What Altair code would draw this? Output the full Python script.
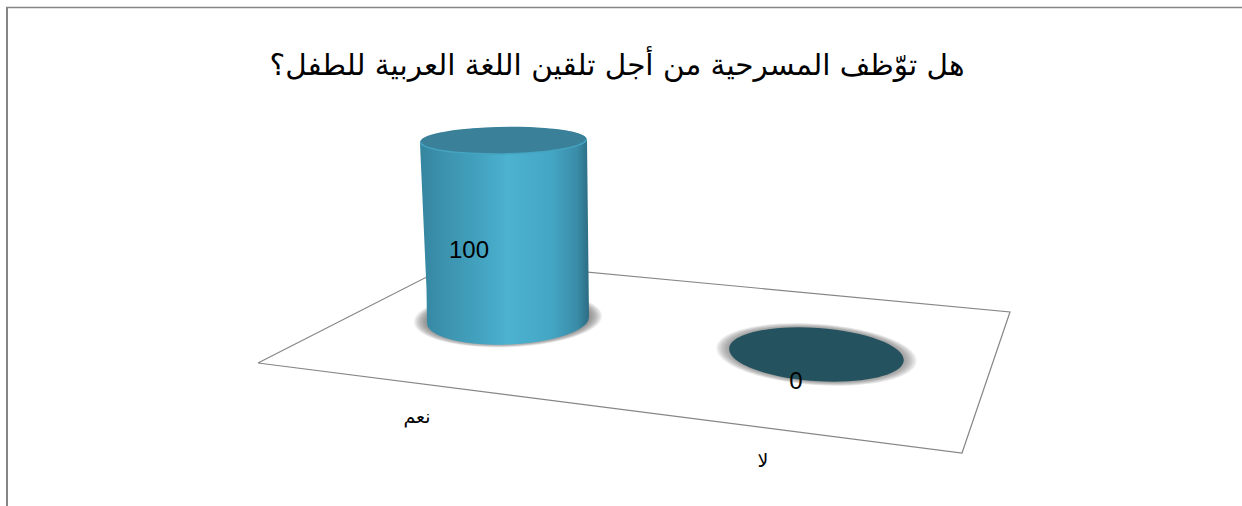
import math
import altair as alt
import pandas as pd

W, H = 1242, 506

TITLE = "هل توّظف المسرحية من أجل تلقين اللغة العربية للطفل؟"
categories = ["نعم", "لا"]
values = [100, 0]

# Screen layout of the pseudo-3D scene
base_center_x = [508, 816.5]
base_center_y = [320, 354.5]
base_rx = [81, 87.5]
PX_PER_UNIT = 1.785
floor_corners = [(258, 363), (460, 260), (1010, 312), (962, 453), (258, 363)]
value_label_pos = [(469, 251), (796, 382)]
category_label_pos = [(417, 417), (763, 461)]

GREY = "#868686"
sx = alt.Scale(domain=[0, W], range=[0, W], nice=False, zero=False)
sy = alt.Scale(domain=[0, H], range=[0, H], nice=False, zero=False)
X = lambda f="x": alt.X(f"{f}:Q", scale=sx, axis=None)
Y = lambda f="y": alt.Y(f"{f}:Q", scale=sy, axis=None)


def ellipse_path(ratio, tilt_deg):
    """Closed unit-width ellipse usable as a custom symbol."""
    t = math.radians(tilt_deg)
    dx, dy = math.cos(t), math.sin(t)
    return (f"M{-dx:.4f},{-dy:.4f}A1,{ratio:.4f},{tilt_deg},1,1,{dx:.4f},{dy:.4f}"
            f"A1,{ratio:.4f},{tilt_deg},1,1,{-dx:.4f},{-dy:.4f}Z")


def disc(rows, ratio, tilt, **mark):
    """Ellipses placed by the x/y scales; size is the squared full width."""
    frame = pd.DataFrame(rows)
    return alt.Chart(frame).mark_point(
        shape=ellipse_path(ratio, tilt), filled=True, strokeWidth=0, **mark
    ).encode(x=X(), y=Y(), size=alt.Size("s:Q", scale=None, legend=None))


def soft_halo(cx, cy, rx, reach, ratio, tilt, color, alpha, steps=9):
    """Concentric translucent ellipses that fade out around a disc."""
    rows = [{"x": cx, "y": cy, "s": (2 * (rx + reach * (1 - i / steps))) ** 2}
            for i in range(steps)]
    return disc(rows, ratio, tilt, color=color, opacity=alpha)


# Floor outline
floor = alt.Chart(pd.DataFrame(
    [{"x": a, "y": b, "o": i} for i, (a, b) in enumerate(floor_corners)]
)).mark_line(color=GREY, strokeWidth=1.2).encode(x=X(), y=Y(), order="o:Q")

# Shadows below each cylinder
shadow_bar = soft_halo(508, 319, 81, 13, 0.30, -2, "#555555", 0.10)
shadow_zero = soft_halo(816.5, 354.5, 87.5, 13, 0.305, 4, "#666666", 0.09)

# Cylinder wall for the non-zero category
top_y = base_center_y[0] - values[0] * PX_PER_UNIT
TOP_CX, TOP_RX = 503.5, 83.5


def wall_rows():
    rows = []
    xs = [420 + i * 0.5 for i in range(0, 335)] + [587.5, 588, 588.5, 589]
    left, right = TOP_CX - TOP_RX, TOP_CX + TOP_RX
    for x in xs:
        upper = top_y - 0.02 * (x - TOP_CX)
        if x > right:
            upper += (x - right) / 2 * (base_center_y[0] - top_y)
        bx = (x - base_center_x[0]) / base_rx[0]
        if abs(bx) <= 1:
            lower = base_center_y[0] - 0.037 * (x - base_center_x[0]) + 24.5 * math.sqrt(1 - bx * bx)
        else:
            lower = upper + (x - left) / 8 * (323 - upper)
        rows.append({"x": x, "y": upper, "y2": min(lower, 345)})
    return rows


wall_gradient = alt.Gradient(
    gradient="linear", x1=0, x2=1, y1=0, y2=0,
    stops=[
        alt.GradientStop(color="#35859f", offset=0),
        alt.GradientStop(color="#3c93af", offset=0.15),
        alt.GradientStop(color="#43a3c0", offset=0.36),
        alt.GradientStop(color="#4bb2d0", offset=0.52),
        alt.GradientStop(color="#44a6c4", offset=0.78),
        alt.GradientStop(color="#3a8ca8", offset=0.93),
        alt.GradientStop(color="#2c6c82", offset=1),
    ],
)
wall = alt.Chart(pd.DataFrame(wall_rows())).mark_area(
    color=wall_gradient, strokeWidth=0, interpolate="linear"
).encode(x=X(), y=Y(), y2="y2:Q")

# Cap of the cylinder: a light bevel under the flat top
cap_rim = disc([{"x": TOP_CX, "y": top_y - 0.5, "s": (2 * TOP_RX) ** 2}], 0.162, -1, color="#45a4c2", opacity=1)
cap_top = disc([{"x": TOP_CX, "y": top_y - 1.5, "s": (2 * (TOP_RX - 1)) ** 2}], 0.158, -1, color="#3a8099", opacity=1)

# Flat disc for the zero category
zero_disc = disc([{"x": base_center_x[1], "y": base_center_y[1], "s": (2 * base_rx[1]) ** 2}],
                 0.305, 4, color="#24535f", opacity=1)

# Value labels and category labels
value_labels = alt.Chart(pd.DataFrame({
    "x": [p[0] for p in value_label_pos],
    "y": [p[1] for p in value_label_pos],
    "t": [str(v) for v in values],
})).mark_text(font="Liberation Sans", fontSize=24, color="#000000", align="center", baseline="middle").encode(
    x=X(), y=Y(), text="t:N")

category_labels = alt.Chart(pd.DataFrame({
    "x": [p[0] for p in category_label_pos],
    "y": [p[1] for p in category_label_pos],
    "t": categories,
})).mark_text(font="DejaVu Sans", fontSize=19, color="#000000", align="center", baseline="middle").encode(
    x=X(), y=Y(), text="t:N")

title = alt.Chart(pd.DataFrame({"x": [617], "y": [66], "t": [TITLE]})).mark_text(
    font="DejaVu Sans", fontSize=29.5, color="#000000", align="center", baseline="middle"
).encode(x=X(), y=Y(), text="t:N")

# Chart frame, clipped on the right and at the bottom
frame_top = alt.Chart(pd.DataFrame({"x": [6], "x2": [W], "y": [7.5]})).mark_rule(
    color=GREY, strokeWidth=1.5).encode(x=X(), x2="x2:Q", y=Y())
frame_left = alt.Chart(pd.DataFrame({"x": [7], "y": [7], "y2": [H]})).mark_rule(
    color=GREY, strokeWidth=2).encode(x=X(), y=Y(), y2="y2:Q")

chart = alt.layer(
    frame_top, frame_left, floor, shadow_bar, shadow_zero, zero_disc,
    wall, cap_rim, cap_top, value_labels, category_labels, title,
).properties(
    width=W, height=H, padding=0, autosize="none", background="#ffffff"
).configure_view(stroke=None)

chart.save("out.html", embed_options={"renderer": "svg", "actions": False})
